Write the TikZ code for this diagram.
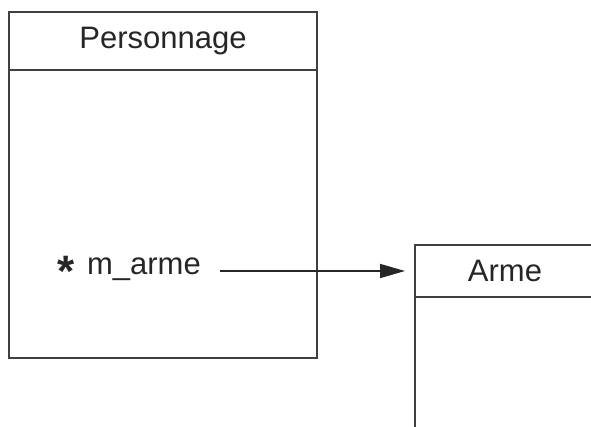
\documentclass[tikz,border=0pt]{standalone}
\usepackage{fontspec}
\setmainfont{Liberation Sans}
\usetikzlibrary{arrows.meta, positioning}

\begin{document}
\begin{tikzpicture}[x=1pt, y=-1pt, node distance=0pt]
    \tikzstyle{classname} = [rectangle, draw=black!75, line width=1.7pt, inner sep=0pt, outer sep=0pt, text=black!85, font=\fontsize{31}{36}\selectfont]
    \tikzstyle{classbody} = [rectangle, draw=black!75, line width=1.7pt, inner sep=0pt, outer sep=0pt]
    \tikzstyle{attribute} = [inner sep=0pt, text=black!85, font=\fontsize{31}{36}\selectfont]
    \tikzstyle{line} = [draw=black!85, line width=1.6pt, -{Triangle[length=25pt, width=14pt]}]

    \useasboundingbox (0,0) rectangle (591,426);
    \clip (0,0) rectangle (591,426);

    \node [classname, minimum width=308pt, minimum height=58pt, anchor=north west] (perso) at (9,12) {Personnage};
    \node [classbody, minimum width=308pt, minimum height=288pt, below=of perso] (persobody) {};

    \node [classname, minimum width=180pt, minimum height=52pt, anchor=north west] (arme) at (415,245) {Arme};
    \node [classbody, minimum width=180pt, minimum height=240pt, below=of arme] (armebody) {};

    \node [attribute, anchor=east] (marme) at (201,271) {\raisebox{-.36em}{\fontsize{44}{44}\selectfont\bfseries *}\hspace{12pt}m\_arme};

    \path [line, shorten <=19pt, shorten >=10pt] (marme.east) -- (arme.west);
\end{tikzpicture}
\end{document}
